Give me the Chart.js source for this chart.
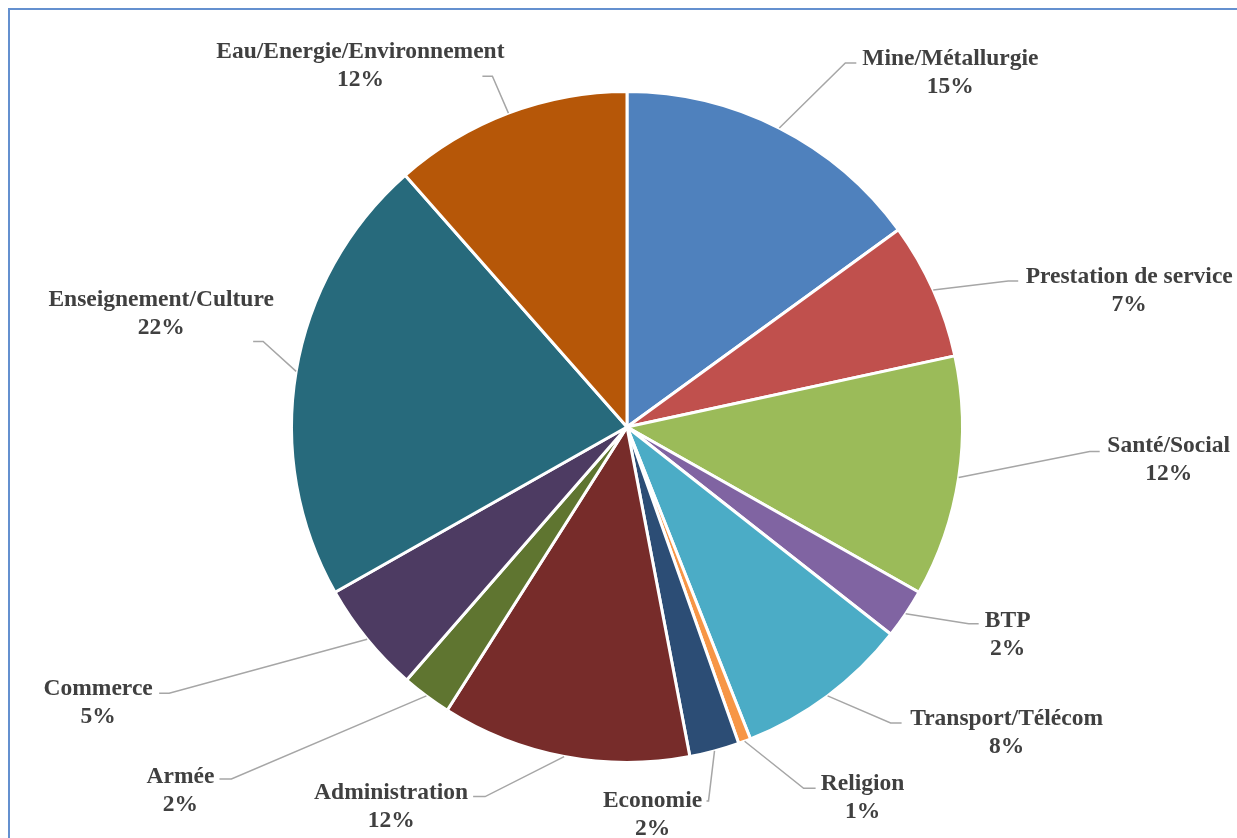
<!DOCTYPE html>
<html>
<head>
<meta charset="utf-8">
<script src="https://cdn.jsdelivr.net/npm/chart.js@4"></script>
<style>
  html, body { margin: 0; padding: 0; background: #fff; overflow: hidden; }
  canvas { display: block; }
</style>
</head>
<body>
<canvas id="pieChart" width="1237" height="838"></canvas>
<script>
// Sectors, clockwise from 12 o'clock
const sectors = ['Mine/Métallurgie', 'Prestation de service', 'Santé/Social', 'BTP',
  'Transport/Télécom', 'Religion', 'Economie', 'Administration', 'Armée',
  'Commerce', 'Enseignement/Culture', 'Eau/Energie/Environnement'];
const shares = [15.0, 6.6, 11.6, 2.4, 8.4, 0.6, 2.4, 12.0, 2.4, 5.4, 21.7, 11.5];

const sliceColors = ['#4f81bd', '#c0504d', '#9bbb59', '#8064a2', '#4bacc6', '#f79646',
  '#2c4d75', '#772c2a', '#5f7530', '#4d3b62', '#276a7c', '#b65708'];

// label placement, offsets from the slice's outer mid point:
// [elbow dx, elbow dy, line end dx, label dx, label dy]
const labelLayout = [
  [66, -65, 77, 171, -72],
  [75, -9, 85, 196, -16],
  [131, -26, 141, 210, -34],
  [63, 10, 73, 102, 4],
  [63, 27, 74, 179, 20],
  [59, 47, 71, 118, 40],
  [-6, 50, -8, -62, 47],
  [-79, 40, -91, -173, 33],
  [-195, 83, -207, -246, 78],
  [-198, 54, -208, -269, 47],
  [-33, -30, -43, -135, -74],
  [-16, -37, -26, -148, -64]
];

const total = shares.reduce((a, b) => a + b, 0);

const calloutPlugin = {
  id: 'callouts',
  afterDraw(chart) {
    const ctx = chart.ctx;
    const arcs = chart.getDatasetMeta(0).data;
    ctx.save();
    arcs.forEach((arc, i) => {
      const p = arc.getProps(['x', 'y', 'startAngle', 'endAngle', 'outerRadius']);
      const mid = (p.startAngle + p.endAngle) / 2;
      const ax = p.x + Math.cos(mid) * p.outerRadius;
      const ay = p.y + Math.sin(mid) * p.outerRadius;
      const [ex, ey, hx, lx, ly] = labelLayout[i];

      ctx.strokeStyle = '#a6a6a6';
      ctx.lineWidth = 1.5;
      ctx.beginPath();
      ctx.moveTo(ax, ay);
      ctx.lineTo(ax + ex, ay + ey);
      ctx.lineTo(ax + hx, ay + ey);
      ctx.stroke();

      ctx.fillStyle = '#404040';
      ctx.font = 'bold 23.5px "Liberation Serif", "Times New Roman", serif';
      ctx.textAlign = 'center';
      ctx.textBaseline = 'middle';
      ctx.fillText(sectors[i], ax + lx, ay + ly + 3);
      ctx.fillText(Math.round(shares[i] / total * 100) + '%', ax + lx, ay + ly + 31);
    });

    // chart frame
    ctx.strokeStyle = '#6490cf';
    ctx.lineWidth = 2;
    ctx.strokeRect(9, 9, 1400, 1000);
    ctx.restore();
  }
};

new Chart(document.getElementById('pieChart').getContext('2d'), {
  type: 'pie',
  data: {
    labels: sectors,
    datasets: [{
      data: shares,
      backgroundColor: sliceColors,
      borderColor: '#ffffff',
      borderWidth: 3
    }]
  },
  options: {
    responsive: false,
    animation: false,
    layout: { padding: { left: 150, right: 133, top: 90, bottom: 74 } },
    plugins: {
      legend: { display: false },
      tooltip: { enabled: false }
    }
  },
  plugins: [calloutPlugin]
});
</script>
</body>
</html>
